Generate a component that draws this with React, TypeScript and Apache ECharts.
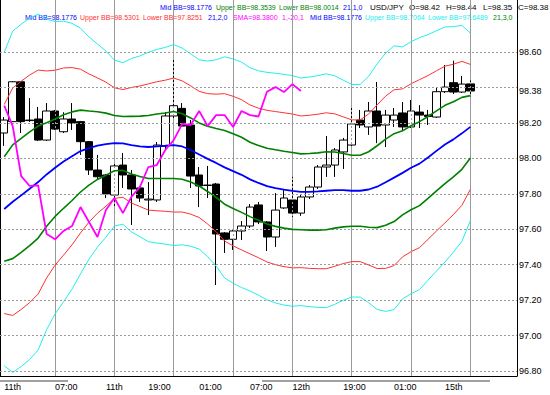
import React, { useEffect, useRef } from 'react';
import * as echarts from 'echarts';

// ---- data ----
const slotCount = 61; // 56 hourly bars + empty space on the right
const barSlots = Array.from({ length: slotCount }, (_, i) => String(i));

const barOpen = [
  98.143, 98.207, 98.432, 98.216, 98.222, 98.103, 98.267, 98.150, 98.222, 98.207,
  98.094, 97.934, 97.906, 97.793, 97.962, 97.906, 97.833, 97.765, 97.765, 98.070,
  98.239, 98.282, 98.188, 97.906, 97.849, 97.855, 97.579, 97.543, 97.590, 97.618,
  97.737, 97.641, 97.556, 97.720, 97.765, 97.691, 97.782, 97.838, 97.951, 97.962,
  98.036, 98.075, 98.216, 98.177, 98.267, 98.188, 98.216, 98.256, 98.177, 98.261,
  98.244, 98.233, 98.376, 98.427, 98.374, 98.42,
];
const barClose = [
  98.216, 98.432, 98.207, 98.213, 98.103, 98.267, 98.165, 98.222, 98.199, 98.094,
  97.934, 97.896, 97.799, 97.957, 97.906, 97.827, 97.776, 97.770, 98.075, 98.239,
  98.297, 98.182, 97.900, 97.844, 97.847, 97.573, 97.543, 97.590, 97.618, 97.725,
  97.641, 97.556, 97.708, 97.776, 97.691, 97.782, 97.838, 97.951, 97.962, 98.047,
  98.103, 98.194, 98.188, 98.267, 98.182, 98.244, 98.244, 98.177, 98.267, 98.244,
  98.236, 98.376, 98.402, 98.374, 98.419, 98.38,
];
const barLow = [
  98.070, 98.205, 98.143, 98.205, 98.098, 98.098, 98.160, 98.143, 98.160, 98.019,
  97.906, 97.878, 97.776, 97.720, 97.833, 97.624, 97.754, 97.680, 97.754, 98.047,
  98.228, 98.177, 97.833, 97.725, 97.776, 97.285, 97.466, 97.483, 97.539, 97.607,
  97.629, 97.477, 97.500, 97.714, 97.669, 97.675, 97.770, 97.827, 97.895, 97.895,
  97.940, 98.064, 98.171, 98.132, 98.086, 98.064, 98.177, 98.154, 98.171, 98.171,
  98.188, 98.228, 98.369, 98.363, 98.369, 98.35,
];
const barHigh = [
  98.233, 98.436, 98.436, 98.340, 98.290, 98.312, 98.273, 98.260, 98.312, 98.211,
  98.098, 98.019, 97.912, 97.974, 98.030, 97.934, 97.844, 97.866, 98.092, 98.261,
  98.566, 98.312, 98.216, 97.951, 97.957, 97.861, 97.584, 97.601, 97.646, 97.742,
  97.754, 97.646, 97.804, 97.821, 97.895, 97.793, 97.849, 97.962, 98.126, 98.058,
  98.115, 98.284, 98.273, 98.318, 98.431, 98.273, 98.284, 98.318, 98.329, 98.300,
  98.273, 98.402, 98.527, 98.551, 98.465, 98.44,
];

// Bollinger (21) middle line and standard deviation per bar
const bbMid = [
  97.714, 97.755, 97.791, 97.828, 97.866, 97.909, 97.947, 97.982, 98.012, 98.041,
  98.058, 98.072, 98.080, 98.086, 98.084, 98.074, 98.068, 98.064, 98.068, 98.071,
  98.075, 98.067, 98.047, 98.022, 97.997, 97.974, 97.949, 97.928, 97.907, 97.881,
  97.861, 97.843, 97.832, 97.823, 97.816, 97.811, 97.811, 97.813, 97.817, 97.821,
  97.820, 97.817, 97.817, 97.824, 97.840, 97.865, 97.891, 97.918, 97.947, 97.970,
  98.005, 98.042, 98.078, 98.107, 98.141, 98.1776,
];
const bbSigma = [
  0.295, 0.321, 0.322, 0.321, 0.316, 0.292, 0.275, 0.264, 0.250, 0.231,
  0.209, 0.191, 0.175, 0.156, 0.152, 0.163, 0.170, 0.178, 0.182, 0.185,
  0.189, 0.185, 0.181, 0.178, 0.184, 0.194, 0.208, 0.211, 0.212, 0.210,
  0.211, 0.214, 0.216, 0.217, 0.217, 0.214, 0.216, 0.218, 0.220, 0.215,
  0.207, 0.200, 0.200, 0.213, 0.231, 0.243, 0.248, 0.237, 0.237, 0.237,
  0.231, 0.226, 0.221, 0.212, 0.203, 0.17627,
];
const smaShift = 20; // SMA(1) shifted -20 bars

const timeLabelBars = [0, 6, 12, 17, 23, 29, 34, 40, 46, 52];
const timeLabels = ['11th', '07:00', '11th', '19:00', '01:00', '07:00', '12th', '19:00', '01:00', '15th'];
const timeGridBars = [6, 13, 20, 27, 34, 41, 48, 55];

const priceTicks = [96.8, 97.0, 97.2, 97.4, 97.6, 97.8, 98.0, 98.2, 98.4, 98.6];
const priceLabels = ['96.80', '97.00', '97.20', '97.40', '97.60', '97.80', '98.00', '98.20', '', '98.60'];
const lastPrice = 98.38;
const priceMin = 96.7716;
const priceMax = 98.8935;

const headerLine1 = ['Mid BB=98.1776', 'Upper BB=98.3539', 'Lower BB=98.0014', '21,1,0', 'USD/JPY', 'O=98.42', 'H=98.44', 'L=98.35', 'C=98.38'];
const headerLine2 = ['Mid BB=98.1776', 'Upper BB=98.5301', 'Lower BB=97.8251', '21,2,0', 'SMA=98.3800', '1,-20,1', 'Mid BB=98.1776', 'Upper BB=98.7064', 'Lower BB=97.6489', '21,3,0'];

// ---- layout / style ----
const BLUE = '#0000ff';
const GREEN = '#008000';
const RED = '#ff3030';
const CYAN = '#22eeee';
const MAGENTA = '#ff00ff';
const GRID = '#9a9a9a';
const FONT = "'Liberation Sans', Arial, sans-serif";

const line1Layout = [
  { x: 160, c: BLUE, s: 7 }, { x: 216, c: GREEN, s: 7 }, { x: 279, c: GREEN, s: 7 }, { x: 343, c: BLUE, s: 7 },
  { x: 370, c: '#000', s: 8 }, { x: 409, c: '#000', s: 8 }, { x: 446, c: '#000', s: 8 }, { x: 483, c: '#000', s: 8 }, { x: 518, c: '#000', s: 8 },
];
const line2Layout = [
  { x: 25, c: BLUE }, { x: 80, c: RED }, { x: 143, c: RED }, { x: 208, c: BLUE }, { x: 233, c: MAGENTA },
  { x: 282, c: MAGENTA }, { x: 310, c: BLUE }, { x: 365, c: CYAN }, { x: 428, c: CYAN }, { x: 493, c: GREEN },
];

export default function App() {
  const ref = useRef<HTMLDivElement>(null);

  useEffect(() => {
    if (!ref.current) return;
    const chart = echarts.init(ref.current, undefined, { renderer: 'svg' });

    const band = (k: number) => bbMid.map((m, i) => +(m + k * bbSigma[i]).toFixed(4));
    const candles = barOpen.map((o, i) => [o, barClose[i], barLow[i], barHigh[i]]);
    const shifted = barClose.slice(smaShift);

    const lineSeries = (name: string, data: number[], color: string, width: number, z: number) => ({
      name,
      type: 'line',
      data,
      showSymbol: false,
      symbol: 'none',
      silent: true,
      z,
      lineStyle: { color, width },
    });

    const graphics: any[] = [];
    headerLine1.forEach((t, i) => {
      const l = line1Layout[i];
      graphics.push({
        type: 'text', x: l.x, y: 7, silent: true,
        style: { text: t, fill: l.c, font: `${l.s}px ${FONT}`, textAlign: 'left', textVerticalAlign: 'middle', align: 'left', verticalAlign: 'middle' },
      });
    });
    headerLine2.forEach((t, i) => {
      const l = line2Layout[i];
      graphics.push({
        type: 'text', x: l.x, y: 17, silent: true,
        style: { text: t, fill: l.c, font: `7px ${FONT}`, textAlign: 'left', textVerticalAlign: 'middle', align: 'left', verticalAlign: 'middle' },
      });
    });
    // thin grey strips under the time axis
    graphics.push({ type: 'rect', silent: true, shape: { x: 0, y: 380, width: 68, height: 2 }, style: { fill: '#a0a0a0' } });
    graphics.push({ type: 'rect', silent: true, shape: { x: 262, y: 380, width: 228, height: 2 }, style: { fill: '#a0a0a0' } });

    chart.setOption({
      animation: false,
      backgroundColor: '#ffffff',
      grid: { left: 0, right: 33, top: 0, bottom: 19, containLabel: false },
      xAxis: {
        type: 'category',
        data: barSlots,
        boundaryGap: true,
        axisLine: { show: true, lineStyle: { color: '#000', width: 1 } },
        axisTick: { show: false },
        splitLine: {
          show: true,
          alignWithLabel: true,
          interval: (index: number) => timeGridBars.includes(index),
          lineStyle: { color: GRID, type: [2, 2], width: 1 },
        },
        axisLabel: {
          interval: (index: number) => timeLabelBars.includes(index),
          formatter: (_v: string, index: number) => {
            const k = timeLabelBars.indexOf(index);
            return k >= 0 ? timeLabels[k] : '';
          },
          align: 'left',
          color: '#000',
          fontSize: 9,
          fontFamily: FONT,
          margin: 6,
        },
      },
      yAxis: [
        {
          type: 'value',
          position: 'right',
          min: priceMin,
          max: priceMax,
          splitNumber: 10,
          axisLine: { show: true, lineStyle: { color: '#000', width: 1 } },
          axisTick: { show: false },
          splitLine: { show: false },
          axisLabel: {
            showMinLabel: false,
            showMaxLabel: false,
            color: '#000',
            fontSize: 9,
            fontFamily: FONT,
            margin: 2,
            formatter: (v: number) => {
              const k = priceTicks.findIndex((t) => Math.abs(t - v) < 1e-6);
              return k >= 0 ? priceLabels[k] : '';
            },
          },
        },
        {
          type: 'value',
          position: 'left',
          min: priceMin,
          max: priceMax,
          axisLine: { show: true, lineStyle: { color: '#000', width: 1 } },
          axisTick: { show: false },
          axisLabel: { show: false },
          splitLine: { show: false },
        },
      ],
      graphic: graphics,
      series: [
        {
          name: 'grid',
          type: 'line',
          data: bbMid,
          showSymbol: false,
          symbol: 'none',
          silent: true,
          z: 1,
          lineStyle: { opacity: 0, width: 0 },
          markLine: {
            silent: true,
            symbol: 'none',
            animation: false,
            label: { show: false },
            lineStyle: { color: GRID, type: [2, 2], width: 1, opacity: 1 },
            data: [
              ...priceTicks.map((v) => ({ yAxis: v })),
              ...timeGridBars.map((b) => ({ xAxis: b })),
            ],
          },
        },
        {
          name: 'USD/JPY',
          type: 'candlestick',
          data: candles,
          barWidth: 8,
          silent: true,
          z: 2,
          itemStyle: {
            color: '#ffffff',
            color0: '#000000',
            borderColor: '#000000',
            borderColor0: '#000000',
            borderWidth: 1,
          },
          markLine: {
            silent: true,
            symbol: 'none',
            animation: false,
            lineStyle: { color: 'rgba(0,0,0,0)', width: 1 },
            label: {
              show: true,
              position: 'end',
              formatter: lastPrice.toFixed(2),
              color: '#000',
              fontSize: 9,
              fontFamily: FONT,
              distance: 2,
            },
            data: [{ yAxis: lastPrice }],
          },
        },
        lineSeries('Upper BB 3', band(3), CYAN, 1, 3),
        lineSeries('Lower BB 3', band(-3), CYAN, 1, 3),
        lineSeries('Upper BB 2', band(2), RED, 1, 4),
        lineSeries('Lower BB 2', band(-2), RED, 1, 4),
        lineSeries('Upper BB 1', band(1), GREEN, 1.6, 5),
        lineSeries('Lower BB 1', band(-1), GREEN, 1.6, 5),
        lineSeries('Mid BB', bbMid, BLUE, 1.8, 6),
        lineSeries('SMA', shifted, MAGENTA, 1.8, 7),
      ],
    });

    return () => chart.dispose();
  }, []);

  return (
    <div
      ref={ref}
      style={{ position: 'fixed', left: 0, top: 0, width: 550, height: 395, background: '#fff' }}
    />
  );
}
